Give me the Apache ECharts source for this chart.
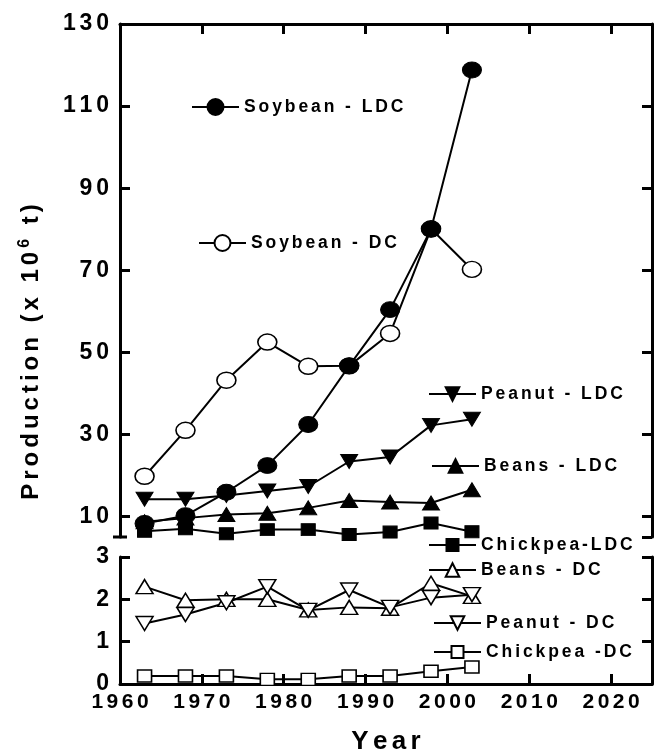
<!DOCTYPE html>
<html><head><meta charset="utf-8">
<script src="https://cdn.jsdelivr.net/npm/echarts@6/dist/echarts.min.js"></script>
<style>html,body{margin:0;padding:0;background:#fff}#c{width:654px;height:756px}</style>
</head><body><div id="c"></div>
<script>
const years = [1963, 1968, 1973, 1978, 1983, 1988, 1993, 1998, 2003];
const soybeanLDC = [8.3, 10.2, 15.9, 22.4, 32.4, 46.7, 60.4, 80.0, 118.8];
const soybeanDC = [19.8, 31.0, 43.2, 52.5, 46.6, 46.7, 54.6, 80.1, 70.2];
const peanutLDC = [14.2, 14.2, 15.1, 16.2, 17.3, 23.4, 24.5, 32.2, 33.7];
const beansLDC = [8.7, 9.6, 10.5, 10.8, 12.1, 13.9, 13.5, 13.3, 16.5];
const chickpeaLDC = [6.4, 7.0, 5.8, 6.8, 6.8, 5.6, 6.2, 8.4, 6.3];
const beansDC = [2.3, 1.98, 2.0, 2.0, 1.75, 1.81, 1.79, 2.38, 2.07];
const peanutDC = [1.43, 1.64, 1.92, 2.3, 1.74, 2.22, 1.81, 2.04, 2.11];
const chickpeaDC = [0.19, 0.19, 0.19, 0.11, 0.11, 0.19, 0.19, 0.3, 0.4];
const upperTickValues = [10, 30, 50, 70, 90, 110, 130];
const xTickValues = [1960, 1970, 1980, 1990, 2000, 2010, 2020];

const FONT = "'Liberation Sans', Arial, sans-serif";
const SP = '\u2006';
const sp = s => String(s).split('').join(SP);
const pairs = arr => years.map((y, i) => [y, arr[i]]);

const G0 = {left: 120, top: 24, width: 532, height: 513};
const G1 = {left: 120, top: 557, width: 532, height: 133};

const axisLine = {show: true, onZero: false, lineStyle: {color: '#000', width: 3}};
const tick = (vals) => ({show: true, inside: true, length: 10, lineStyle: {color: '#000', width: 3}, customValues: vals});
const lblStyle = {color: '#000', fontSize: 23, fontWeight: 'bold', fontFamily: FONT};

const filled = {color: '#000', borderColor: '#000', borderWidth: 1};
const open = {color: '#fff', borderColor: '#000', borderWidth: 1.5};
function mk(name, data, symbol, size, style, grid, rot) {
  return {
    name, type: 'line', data: pairs(data),
    xAxisIndex: grid, yAxisIndex: grid === 0 ? 0 : 2,
    symbol, symbolSize: size, symbolRotate: rot || 0,
    itemStyle: style, lineStyle: {color: '#000', width: 2},
    emphasis: {disabled: true}, z: 3
  };
}
const series = [
  mk('Chickpea-LDC', chickpeaLDC, 'rect', [14, 12], filled, 0),
  mk('Beans - LDC', beansLDC, 'triangle', [17, 14], filled, 0),
  mk('Peanut - LDC', peanutLDC, 'triangle', [17, 14], filled, 0, 180),
  mk('Soybean - DC', soybeanDC, 'circle', [19, 16], open, 0),
  mk('Soybean - LDC', soybeanLDC, 'circle', [19, 16], filled, 0),
  mk('Chickpea -DC', chickpeaDC, 'rect', [14, 12], open, 1),
  mk('Beans - DC', beansDC, 'triangle', [17, 14], open, 1),
  mk('Peanut - DC', peanutDC, 'triangle', [17, 14], open, 1, 180)
];

const legendPos = [
  ['Soybean - LDC', 191, 107, 20],
  ['Soybean - DC', 198, 243, 20],
  ['Peanut - LDC', 428, 394, 17],
  ['Beans - LDC', 431, 466, 17],
  ['Chickpea-LDC', 428, 545, 15],
  ['Beans - DC', 428, 570, 17],
  ['Peanut - DC', 433, 623, 17],
  ['Chickpea -DC', 433, 652, 15]
];
const legends = legendPos.map(([n, x, cy, h]) => ({
  data: [n], left: x, top: cy - 10, padding: 0, itemWidth: 47, itemHeight: h,
  selectedMode: false, formatter: v => sp(v),
  textStyle: {color: '#000', fontSize: 17.5, fontWeight: 'bold', fontFamily: FONT, lineHeight: 20}
}));

const chart = echarts.init(document.getElementById('c'), null, {renderer: 'canvas'});
chart.setOption({
  animation: false,
  backgroundColor: '#fff',
  grid: [
    Object.assign({containLabel: false}, G0),
    Object.assign({containLabel: false}, G1)
  ],
  xAxis: [
    {gridIndex: 0, type: 'value', min: 1960, max: 2025, position: 'top',
     axisLine, axisTick: tick(xTickValues), axisLabel: {show: false}, splitLine: {show: false}},
    {gridIndex: 1, type: 'value', min: 1960, max: 2025, position: 'bottom',
     axisLine, axisTick: tick(xTickValues),
     axisLabel: Object.assign({customValues: xTickValues, margin: 8, formatter: v => sp(v)}, lblStyle, {fontSize: 21}),
     splitLine: {show: false},
     name: sp('Year'), nameLocation: 'middle', nameGap: 45,
     nameTextStyle: {color: '#000', fontSize: 26, fontWeight: 'bold', fontFamily: FONT}}
  ],
  yAxis: [
    {gridIndex: 0, type: 'value', min: 5, max: 130, position: 'left',
     axisLine, axisTick: tick(upperTickValues),
     axisLabel: Object.assign({customValues: upperTickValues, margin: 11, formatter: v => sp(v)}, lblStyle),
     splitLine: {show: false}},
    {gridIndex: 0, type: 'value', min: 5, max: 130, position: 'right',
     axisLine, axisTick: tick([5].concat(upperTickValues)), axisLabel: {show: false}, splitLine: {show: false}},
    {gridIndex: 1, type: 'value', min: 0, max: 3, interval: 1, position: 'left',
     axisLine, axisTick: tick([0, 1, 2, 3]),
     axisLabel: Object.assign({margin: 11, formatter: v => sp(v)}, lblStyle),
     splitLine: {show: false}},
    {gridIndex: 1, type: 'value', min: 0, max: 3, interval: 1, position: 'right',
     axisLine, axisTick: tick([0, 1, 2, 3]), axisLabel: {show: false}, splitLine: {show: false}}
  ],
  legend: legends,
  series,
  graphic: [
    {type: 'line', shape: {x1: G0.left - 7, y1: G0.top + G0.height, x2: G0.left + 7, y2: G0.top + G0.height},
     style: {stroke: '#000', lineWidth: 3}, z: 10},
    {type: 'text', x: 31, y: 352, rotation: Math.PI / 2,
     style: {
       text: sp('Production (x 10') + SP + '{sup|6}' + SP + sp(' t)'),
       fill: '#000', fontSize: 24, fontWeight: 'bold', fontFamily: FONT,
       align: 'center', verticalAlign: 'middle',
       rich: {sup: {fontSize: 16, fontWeight: 'bold', fontFamily: FONT, fill: '#000', verticalAlign: 'top', padding: [0, 0, 12, 0]}}
     }}
  ]
});
</script></body></html>
